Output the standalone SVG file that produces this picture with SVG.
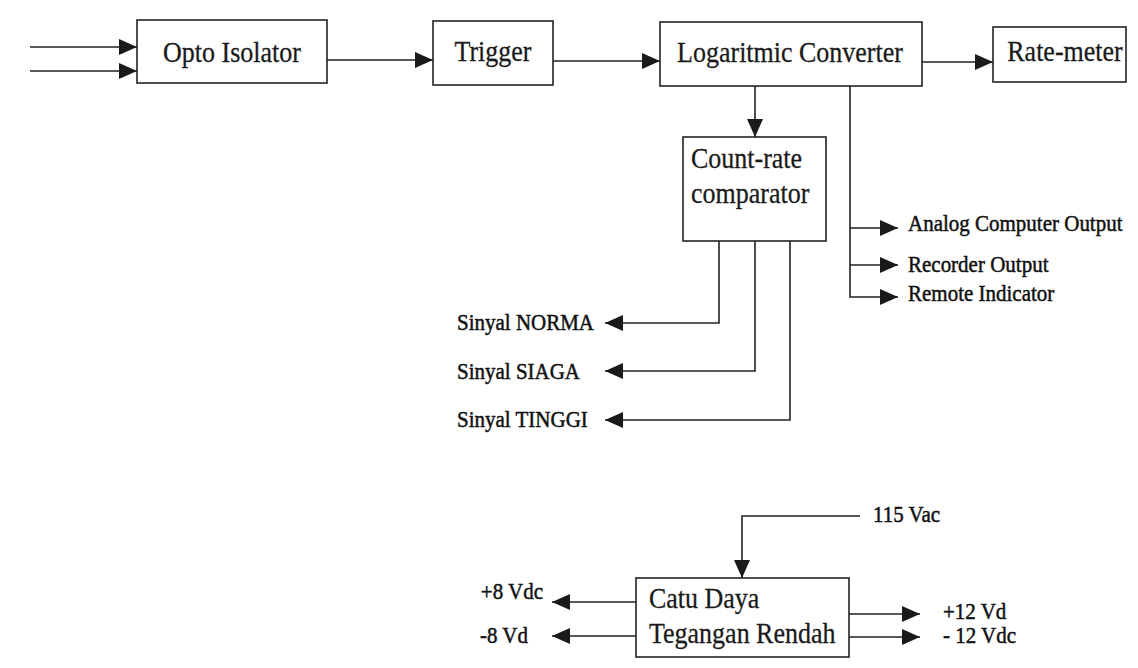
<svg xmlns="http://www.w3.org/2000/svg" width="1138" height="668" viewBox="0 0 1138 668">
<defs>
<style>
.box{fill:#ffffff;stroke:#222;stroke-width:1.6}
.ln{fill:none;stroke:#222;stroke-width:1.6}
.big{font-family:"Liberation Serif","Times New Roman",serif;font-size:26px;fill:#1a1a1a;stroke:#1a1a1a;stroke-width:0.25}
.sm{font-family:"Liberation Serif","Times New Roman",serif;font-size:21px;fill:#111;stroke:#111;stroke-width:0.45}
</style>
<marker id="ah" viewBox="0 0 18 16" refX="18" refY="8" markerWidth="18" markerHeight="16" markerUnits="userSpaceOnUse" orient="auto">
<path d="M0,0 L18,8 L0,16 z" fill="#1a1a1a"/>
</marker>
</defs>
<rect width="1138" height="668" fill="#ffffff"/>
<g id="connectors">
<line class="ln" x1="30" y1="47" x2="137" y2="47" marker-end="url(#ah)"/>
<line class="ln" x1="30" y1="71" x2="137" y2="71" marker-end="url(#ah)"/>
<line class="ln" x1="327" y1="60" x2="433" y2="60" marker-end="url(#ah)"/>
<line class="ln" x1="553" y1="61" x2="660" y2="61" marker-end="url(#ah)"/>
<line class="ln" x1="922" y1="62" x2="993" y2="62" marker-end="url(#ah)"/>
<line class="ln" x1="755" y1="86" x2="755" y2="137" marker-end="url(#ah)"/>
<polyline class="ln" points="850,86 850,297 898,297" marker-end="url(#ah)"/>
<line class="ln" x1="850" y1="228" x2="898" y2="228" marker-end="url(#ah)"/>
<line class="ln" x1="850" y1="265" x2="898" y2="265" marker-end="url(#ah)"/>
<polyline class="ln" points="719,241 719,323 605,323" marker-end="url(#ah)"/>
<polyline class="ln" points="755,241 755,371 605,371" marker-end="url(#ah)"/>
<polyline class="ln" points="790,241 790,420 605,420" marker-end="url(#ah)"/>
<polyline class="ln" points="860,516 742,516 742,578" marker-end="url(#ah)"/>
<line class="ln" x1="636" y1="602" x2="552" y2="602" marker-end="url(#ah)"/>
<line class="ln" x1="636" y1="636" x2="552" y2="636" marker-end="url(#ah)"/>
<line class="ln" x1="849" y1="614" x2="920" y2="614" marker-end="url(#ah)"/>
<line class="ln" x1="849" y1="637" x2="920" y2="637" marker-end="url(#ah)"/>
</g>
<g id="opto-isolator">
<rect class="box" x="137" y="20" width="190" height="63"/>
<text class="big" transform="translate(232,62) scale(1,1.15)" text-anchor="middle">Opto Isolator</text>
</g>
<g id="trigger">
<rect class="box" x="433" y="21" width="120" height="64"/>
<text class="big" transform="translate(493,61) scale(1,1.15)" text-anchor="middle">Trigger</text>
</g>
<g id="logaritmic-converter">
<rect class="box" x="660" y="22" width="262" height="64"/>
<text class="big" transform="translate(790,62) scale(1,1.15)" text-anchor="middle">Logaritmic Converter</text>
</g>
<g id="rate-meter">
<rect class="box" x="993" y="27" width="133" height="55"/>
<text class="big" transform="translate(1065,61) scale(1,1.15)" text-anchor="middle">Rate-meter</text>
</g>
<g id="count-rate-comparator">
<rect class="box" x="683" y="137" width="143" height="104"/>
<text class="big" transform="translate(691,168) scale(1,1.15)">Count-rate</text>
<text class="big" transform="translate(691,203) scale(1,1.15)">comparator</text>
</g>
<g id="catu-daya">
<rect class="box" x="636" y="578" width="213" height="79"/>
<text class="big" transform="translate(649,608) scale(1,1.15)">Catu Daya</text>
<text class="big" transform="translate(649,643) scale(1,1.15)">Tegangan Rendah</text>
</g>
<g id="outputs">
<text class="sm" transform="translate(908,231) scale(1,1.1)">Analog Computer Output</text>
<text class="sm" transform="translate(908,272) scale(1,1.1)">Recorder Output</text>
<text class="sm" transform="translate(908,301) scale(1,1.1)">Remote Indicator</text>
<text class="sm" transform="translate(457,330) scale(1,1.1)">Sinyal NORMA</text>
<text class="sm" transform="translate(457,379) scale(1,1.1)">Sinyal SIAGA</text>
<text class="sm" transform="translate(457,427) scale(1,1.1)">Sinyal TINGGI</text>
<text class="sm" transform="translate(873,522) scale(1,1.1)">115 Vac</text>
<text class="sm" transform="translate(543,599) scale(1,1.1)" text-anchor="end">+8 Vdc</text>
<text class="sm" transform="translate(480,643) scale(1,1.1)">-8 Vd</text>
<text class="sm" transform="translate(943,619) scale(1,1.1)">+12 Vd</text>
<text class="sm" transform="translate(943,643) scale(1,1.1)">- 12 Vdc</text>
</g>
</svg>
